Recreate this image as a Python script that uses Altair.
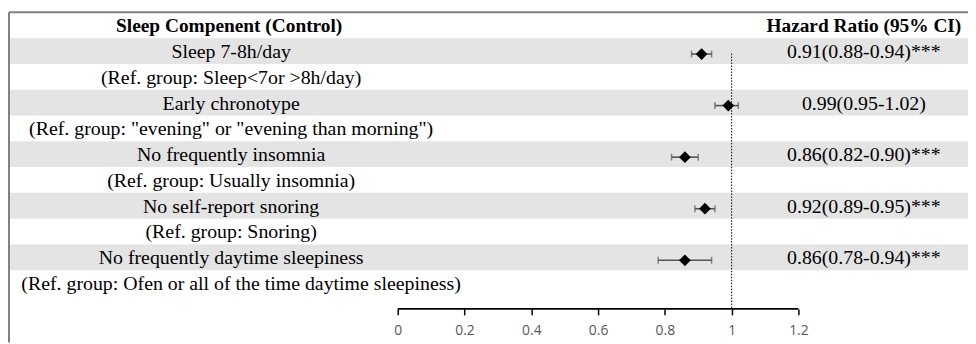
import altair as alt
import pandas as pd

# ---------------- data ----------------
row_labels = [
    "Sleep 7-8h/day",
    "(Ref. group: Sleep<7or >8h/day)",
    "Early chronotype",
    '(Ref. group: "evening" or "evening than morning")',
    "No frequently insomnia",
    "(Ref. group: Usually insomnia)",
    "No self-report snoring",
    "(Ref. group: Snoring)",
    "No frequently daytime sleepiness",
    "(Ref. group: Ofen or all of the time daytime sleepiness)",
]
hr = [0.91, 0.99, 0.86, 0.92, 0.86]
ci_lo = [0.88, 0.95, 0.82, 0.89, 0.78]
ci_hi = [0.94, 1.02, 0.90, 0.95, 0.94]
stars = ["***", "", "***", "***", "***"]
x_ticks = [0, 0.2, 0.4, 0.6, 0.8, 1.0, 1.2]
header_left = "Sleep Compenent (Control)"
header_right = "Hazard Ratio (95% CI)"

# ---------------- layout ----------------
W, H = 967, 299
BOTTOM = 34
ROW = 26.0
PX0, PX12 = 392.0, 796.0          # pixel positions of 0 and 1.2 on the axis
ppu = (PX12 - PX0) / 1.2
x_dom = [-PX0 / ppu, (W - PX0) / ppu]
y_dom = [0, H / ROW]
LEFT_COL = 224
RIGHT_COL = 862
SERIF = "Liberation Serif"
N = len(row_labels)

rows = pd.DataFrame({
    "row": list(range(1, N + 1)),
    "label": row_labels,
})
rows["top"] = rows["row"]
rows["bot"] = rows["row"] + 1
rows["mid"] = rows["row"] + 0.5
rows["xl"] = x_dom[0]
rows["xr"] = x_dom[1]
bands = rows[rows["row"] % 2 == 1]

pts = pd.DataFrame({
    "row": [1, 3, 5, 7, 9],
    "hr": hr,
    "lo": ci_lo,
    "hi": ci_hi,
    "txt": [f"{h:.2f}({l:.2f}-{u:.2f}){s}" for h, l, u, s in zip(hr, ci_lo, ci_hi, stars)],
})
pts["mid"] = pts["row"] + 0.5

xs = alt.Scale(domain=x_dom, nice=False, zero=False)
ys = alt.Scale(domain=y_dom, nice=False, zero=False, reverse=True)

band_layer = alt.Chart(bands).mark_rect(color="#e4e4e4").encode(
    y=alt.Y("top:Q", scale=ys, axis=None),
    y2="bot:Q",
    x=alt.X("xl:Q", scale=xs),
    x2="xr:Q",
)

text_style = dict(font=SERIF, color="black", align="center", baseline="middle", dy=1)

left_text = alt.Chart(rows).transform_filter(f"datum.row < {N}").mark_text(
    fontSize=20, **text_style
).encode(
    y=alt.Y("mid:Q", scale=ys, axis=None),
    x=alt.value(LEFT_COL),
    text="label:N",
)
left_text_last = alt.Chart(rows).transform_filter(f"datum.row == {N}").mark_text(
    fontSize=20, dx=10, **text_style
).encode(
    y=alt.Y("mid:Q", scale=ys, axis=None),
    x=alt.value(LEFT_COL),
    text="label:N",
)

right_text = alt.Chart(pts).mark_text(fontSize=20, **text_style).encode(
    y=alt.Y("mid:Q", scale=ys, axis=None),
    x=alt.value(RIGHT_COL),
    text="txt:N",
)

hdr_l = pd.DataFrame({"t": [header_left], "mid": [0.5]})
hdr_r = pd.DataFrame({"t": [header_right], "mid": [0.5]})
hdr_left = alt.Chart(hdr_l).mark_text(fontWeight="bold", fontSize=19.5, **text_style).encode(
    y=alt.Y("mid:Q", scale=ys, axis=None), x=alt.value(LEFT_COL - 2), text="t:N")
hdr_right = alt.Chart(hdr_r).mark_text(fontWeight="bold", fontSize=19.5, **text_style).encode(
    y=alt.Y("mid:Q", scale=ys, axis=None), x=alt.value(RIGHT_COL), text="t:N")

ref = pd.DataFrame({"v": [1.0], "y1": [1.6], "y2": [H / ROW]})
ref_line = alt.Chart(ref).mark_rule(
    color="black", strokeDash=[1.5, 1.5], strokeWidth=1
).encode(
    x=alt.X("v:Q", scale=xs),
    y=alt.Y("y1:Q", scale=ys, axis=None),
    y2="y2:Q",
)

err = alt.Chart(pts).mark_rule(color="#555555", strokeWidth=1.6, yOffset=3).encode(
    x=alt.X("lo:Q", scale=xs),
    x2="hi:Q",
    y=alt.Y("mid:Q", scale=ys, axis=None),
)
cap_lo = alt.Chart(pts).mark_tick(color="#555555", orient="vertical", size=7, thickness=1.5, yOffset=3).encode(
    x=alt.X("lo:Q", scale=xs), y=alt.Y("mid:Q", scale=ys, axis=None)
)
cap_hi = alt.Chart(pts).mark_tick(color="#555555", orient="vertical", size=7, thickness=1.5, yOffset=3).encode(
    x=alt.X("hi:Q", scale=xs), y=alt.Y("mid:Q", scale=ys, axis=None)
)

diamonds = alt.Chart(pts).mark_point(
    shape="diamond", filled=True, color="black", opacity=1, size=140, yOffset=3
).encode(
    x=alt.X(
        "hr:Q",
        scale=xs,
        axis=alt.Axis(
            values=x_ticks, format="~g", title=None, domain=False, grid=False,
            ticks=True, tickSize=6, tickWidth=1.5, tickColor="black", tickOpacity=1,
            labelFont="Open Sans", labelFontSize=14, labelColor="#595959",
            labelPadding=9,
        ),
    ),
    y=alt.Y("mid:Q", scale=ys, axis=None),
)

axl = pd.DataFrame({"a": [x_ticks[0]], "b": [x_ticks[-1]], "yy": [H / ROW]})
axis_line = alt.Chart(axl).mark_rule(color="black", strokeWidth=1.8).encode(
    x=alt.X("a:Q", scale=xs),
    x2="b:Q",
    y=alt.Y("yy:Q", scale=ys, axis=None),
)

brd = pd.DataFrame({"xl": [x_dom[0]], "xr": [x_dom[1]], "yt": [0.0], "yb": [(H + BOTTOM) / ROW]})
top_border = alt.Chart(brd).mark_rule(color="#808080", strokeWidth=2).encode(
    x=alt.X("xl:Q", scale=xs), x2="xr:Q", y=alt.Y("yt:Q", scale=ys, axis=None)
)
left_border = alt.Chart(brd).mark_rule(color="#808080", strokeWidth=2).encode(
    x=alt.X("xl:Q", scale=xs), y=alt.Y("yt:Q", scale=ys, axis=None), y2="yb:Q"
)

chart = alt.layer(
    band_layer, ref_line, err, cap_lo, cap_hi, diamonds, axis_line,
    left_text, left_text_last, right_text, hdr_left, hdr_right, top_border, left_border,
).properties(
    width=W,
    height=H,
    padding={"left": 1, "top": 3, "right": 0, "bottom": BOTTOM},
    autosize=alt.AutoSizeParams(type="none"),
    background="white",
).configure_view(strokeWidth=0)

chart.save("out.html", embed_options={"renderer": "svg", "actions": False})
